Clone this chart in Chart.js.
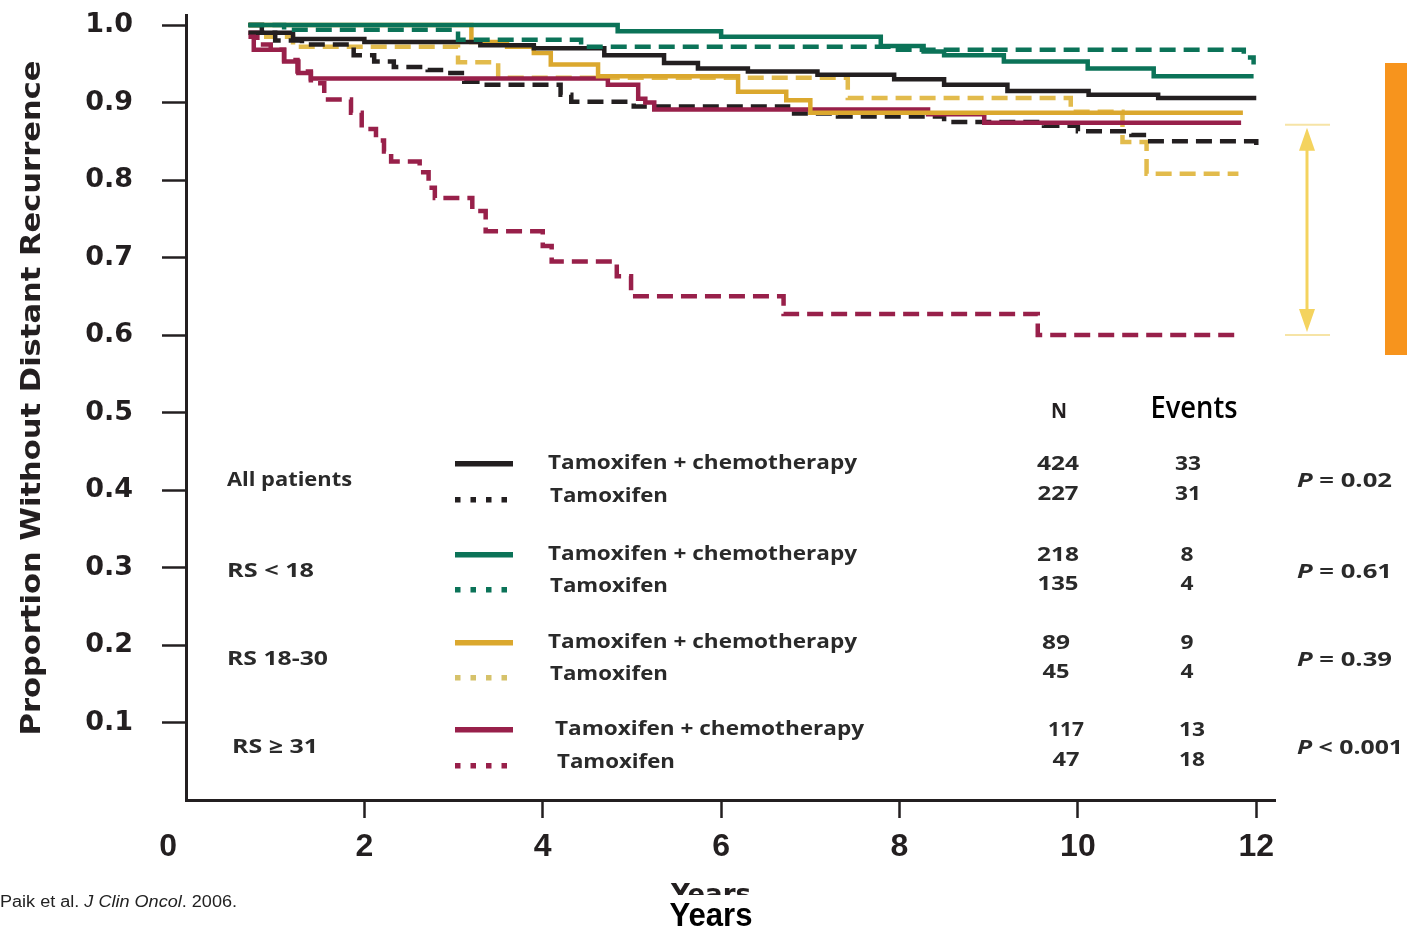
<!DOCTYPE html>
<html>
<head>
<meta charset="utf-8">
<script src="https://cdn.jsdelivr.net/npm/chart.js@4.4.1/dist/chart.umd.min.js"></script>
<style>
html,body{margin:0;padding:0;background:#ffffff;}
canvas{display:block;}
</style>
</head>
<body>
<canvas id="c" width="1407" height="931"></canvas>
<script>
// ---------- tick labels ----------
const xTickValues = [0, 2, 4, 6, 8, 10, 12];
const yTickValues = [0.1, 0.2, 0.3, 0.4, 0.5, 0.6, 0.7, 0.8, 0.9, 1.0];

// ---------- Kaplan-Meier curves (time of step, value after step) ----------
const allChemoTime = [0.7, 0.85, 1.2, 2.0, 3.3, 3.9, 4.69, 5.36, 5.74, 6.30, 7.08, 7.94, 8.50, 9.21, 10.12, 10.90, 12.0];
const allChemoSurv = [1.0, 0.99, 0.982, 0.978, 0.974, 0.970, 0.961, 0.951, 0.944, 0.940, 0.936, 0.930, 0.923, 0.915, 0.910, 0.906, 0.906];

const allTamTime = [0.7, 1.0, 1.3, 1.88, 2.11, 2.33, 2.71, 2.89, 3.12, 3.3, 4.2, 4.32, 5.02, 6.75, 7.31, 8.5, 9.62, 10.0, 10.6, 10.78, 12.0];
const allTamSurv = [0.99, 0.98, 0.975, 0.961, 0.953, 0.946, 0.942, 0.938, 0.927, 0.923, 0.910, 0.901, 0.895, 0.886, 0.882, 0.875, 0.870, 0.863, 0.858, 0.850, 0.835];

const lowChemoTime = [0.7, 4.84, 6.0, 7.79, 8.27, 8.5, 9.17, 10.11, 10.85, 11.97];
const lowChemoSurv = [1.0, 0.992, 0.985, 0.973, 0.966, 0.961, 0.953, 0.944, 0.934, 0.934];

const lowTamTime = [0.7, 1.1, 3.05, 4.43, 7.9, 11.86, 11.97];
const lowTamSurv = [1.0, 0.994, 0.981, 0.972, 0.968, 0.958, 0.949];

const midChemoTime = [0.7, 3.2, 3.6, 3.9, 4.09, 4.62, 6.19, 6.73, 7.0, 11.85];
const midChemoSurv = [1.0, 0.978, 0.972, 0.964, 0.949, 0.934, 0.914, 0.903, 0.887, 0.887];

const midTamTime = [0.7, 0.9, 1.2, 3.05, 3.5, 7.42, 9.92, 10.5, 10.77, 11.8];
const midTamSurv = [1.0, 0.985, 0.972, 0.952, 0.932, 0.906, 0.888, 0.849, 0.808, 0.808];

const highChemoTime = [0.7, 0.76, 1.1, 1.26, 1.4, 4.73, 5.07, 5.15, 5.25, 8.32, 8.95, 11.83];
const highChemoSurv = [0.985, 0.968, 0.953, 0.938, 0.931, 0.923, 0.905, 0.900, 0.891, 0.885, 0.874, 0.874];

const highTamTime = [0.7, 0.8, 0.95, 1.1, 1.25, 1.4, 1.55, 1.85, 1.97, 2.13, 2.22, 2.30, 2.62, 2.72, 2.79, 3.21, 3.36, 4.0, 4.1, 4.83, 4.99, 6.70, 9.55, 11.83];
const highTamSurv = [0.99, 0.975, 0.968, 0.955, 0.94, 0.925, 0.904, 0.887, 0.866, 0.851, 0.837, 0.824, 0.81, 0.79, 0.777, 0.76, 0.734, 0.715, 0.695, 0.676, 0.65, 0.627, 0.60, 0.60];

// ---------- legend / table ----------
const groupLabels = ['All patients', 'RS < 18', 'RS 18-30', 'RS \u2265 31'];
const armLabels = ['Tamoxifen + chemotherapy', 'Tamoxifen'];
const nChemo = ['424', '218', '89', '117'];
const nTam = ['227', '135', '45', '47'];
const eventsChemo = ['33', '8', '9', '13'];
const eventsTam = ['31', '4', '4', '18'];
const pSigns = ['=', '=', '=', '<'];
const pValues = ['0.02', '0.61', '0.39', '0.001'];

// ---------- styles ----------
const INK = '#231f20';
const TXT = '#2a2a2a';
const C_BLACK = '#231f20';
const C_GREEN = '#0b7358';
const C_GOLD = '#dba82e';
const C_GOLD_D = '#e2bb4c';
const C_RED = '#98204a';
const groupColors = [C_BLACK, C_GREEN, C_GOLD, C_RED];
const groupDotColors = [C_BLACK, C_GREEN, '#d6c26a', C_RED];

function km(t, s) { return t.map((x, i) => ({ x: x, y: s[i] })); }
function ds(label, t, s, color, dashed) {
  return {
    label: label, data: km(t, s), borderColor: color, backgroundColor: color,
    borderWidth: 4.5, borderDash: dashed ? [16, 8] : [], stepped: true,
    pointRadius: 0, pointHoverRadius: 0, fill: false, tension: 0,
    borderCapStyle: 'butt', borderJoinStyle: 'miter'
  };
}

const datasets = [
  ds('RS<18 Tamoxifen + chemotherapy', lowChemoTime, lowChemoSurv, C_GREEN, false),
  ds('RS<18 Tamoxifen', lowTamTime, lowTamSurv, C_GREEN, true),
  ds('All Tamoxifen + chemotherapy', allChemoTime, allChemoSurv, C_BLACK, false),
  ds('RS 18-30 Tamoxifen + chemotherapy', midChemoTime, midChemoSurv, C_GOLD, false),
  ds('RS>=31 Tamoxifen + chemotherapy', highChemoTime, highChemoSurv, C_RED, false),
  ds('All Tamoxifen', allTamTime, allTamSurv, C_BLACK, true),
  ds('RS 18-30 Tamoxifen', midTamTime, midTamSurv, C_GOLD_D, true),
  ds('RS>=31 Tamoxifen', highTamTime, highTamSurv, C_RED, true)
];

// ---------- text helpers ----------
function fitText(ctx, text, x, y, font, width, align, color) {
  ctx.save();
  ctx.font = font;
  ctx.fillStyle = color || INK;
  const w = ctx.measureText(text).width;
  const tw = width || w;
  const sx = tw / w;
  let left = x;
  if (align === 'center') left = x - tw / 2;
  else if (align === 'right') left = x - tw;
  ctx.translate(left, y);
  ctx.scale(sx, 1);
  ctx.textAlign = 'left';
  ctx.textBaseline = 'alphabetic';
  ctx.fillText(text, 0, 0);
  ctx.restore();
}
function richText(ctx, pieces, x, y, width, color) {
  ctx.save();
  let total = 0;
  const ws = pieces.map(p => { ctx.font = p.font; const w = ctx.measureText(p.t).width; total += w; return w; });
  const sx = width ? width / total : 1;
  ctx.translate(x, y);
  ctx.scale(sx, 1);
  ctx.textAlign = 'left';
  ctx.textBaseline = 'alphabetic';
  ctx.fillStyle = color || INK;
  let cx = 0;
  pieces.forEach((p, i) => { ctx.font = p.font; ctx.fillText(p.t, cx, 0); cx += ws[i]; });
  ctx.restore();
}

const F_MAIN = '700 20px "Open Sans"';
const F_NUM = '700 20px "Open Sans"';

// legend layout (pixel rows per group)
const rowChemoY = [469, 560, 648, 735];
const rowTamY = [502, 592, 680, 768];
const groupY = [486, 577, 665, 753];
const groupX = [227, 227, 227, 232];
const groupW = [125, 87, 101, 86];
const armX = [548, 548, 548, 555];
const nX = [1058, 1058, 1056, 1066];
const evX = [1188, 1187, 1187, 1192];

const overlayPlugin = {
  id: 'overlay',
  afterDraw(chart) {
    const ctx = chart.ctx;
    const yS = chart.scales.y;

    // Y axis title
    ctx.save();
    ctx.translate(40, 398);
    ctx.rotate(-Math.PI / 2);
    fitText(ctx, 'Proportion Without Distant Recurrence', 0, 0, 'bold 27px "DejaVu Sans"', 675, 'center');
    ctx.restore();

    // Header of table
    fitText(ctx, 'N', 1059, 418, '700 22px "Open Sans"', 16, 'center');
    fitText(ctx, 'Events', 1194, 418, '600 30px "Open Sans"', 87, 'center', '#000000');

    for (let g = 0; g < 4; g++) {
      fitText(ctx, groupLabels[g], groupX[g], groupY[g], F_MAIN, groupW[g], 'left', TXT);
      // samples
      ctx.save();
      ctx.fillStyle = groupColors[g];
      ctx.fillRect(455, rowChemoY[g] - 8, 58, 5.5);
      ctx.fillStyle = groupDotColors[g];
      for (let k = 0; k < 4; k++) ctx.fillRect(455 + k * 15.5, rowTamY[g] - 5, 5.5, 5.5);
      ctx.restore();
      fitText(ctx, armLabels[0], armX[g], rowChemoY[g], F_MAIN, 309, 'left', TXT);
      fitText(ctx, armLabels[1], armX[g] + 2, rowTamY[g], F_MAIN, 118, 'left', TXT);
      // N and events
      const nwC = nChemo[g].length * 14;
      const nwT = nTam[g].length * 14;
      fitText(ctx, nChemo[g], nX[g], rowChemoY[g] + 1, F_NUM, nChemo[g] === '117' ? 36 : nwC, 'center', TXT);
      fitText(ctx, nTam[g], nX[g], rowTamY[g] - 2, F_NUM, nwT - 1, 'center', TXT);
      fitText(ctx, eventsChemo[g], evX[g], rowChemoY[g] + 1, F_NUM, eventsChemo[g].length * 13, 'center', TXT);
      fitText(ctx, eventsTam[g], evX[g], rowTamY[g] - 2, F_NUM, eventsTam[g].length * 13, 'center', TXT);
      // P value
      richText(ctx, [
        { t: 'P', font: 'italic 700 20px "Open Sans"' },
        { t: ' ' + pSigns[g] + ' ' + pValues[g], font: '700 20px "Open Sans"' }
      ], 1297, groupY[g] + 1, pValues[g].length > 4 ? 106 : 95, TXT);
    }

    // double-headed arrow between RS>=31 arms at the end of follow-up
    const yTop = yS.getPixelForValue(highChemoSurv[highChemoSurv.length - 1]);
    const yBot = yS.getPixelForValue(highTamSurv[highTamSurv.length - 1]);
    const ax = 1307;
    ctx.save();
    ctx.strokeStyle = '#f6e4a6';
    ctx.lineWidth = 2;
    ctx.beginPath();
    ctx.moveTo(1285, yTop + 2); ctx.lineTo(1330, yTop + 2);
    ctx.moveTo(1285, yBot); ctx.lineTo(1330, yBot);
    ctx.stroke();
    ctx.strokeStyle = '#f4d35e';
    ctx.lineWidth = 3;
    ctx.beginPath();
    ctx.moveTo(ax, yTop + 20); ctx.lineTo(ax, yBot - 20);
    ctx.stroke();
    ctx.fillStyle = '#f4d35e';
    ctx.beginPath();
    ctx.moveTo(ax, yTop + 5); ctx.lineTo(ax - 8, yTop + 28); ctx.lineTo(ax + 8, yTop + 28); ctx.closePath();
    ctx.fill();
    ctx.beginPath();
    ctx.moveTo(ax, yBot - 3); ctx.lineTo(ax - 8, yBot - 26); ctx.lineTo(ax + 8, yBot - 26); ctx.closePath();
    ctx.fill();
    // orange side bar
    ctx.fillStyle = '#f7941d';
    ctx.fillRect(1385, 63, 22, 292);
    ctx.restore();

    // x axis title (clipped copy + bold copy)
    ctx.save();
    ctx.beginPath();
    ctx.rect(600, 870, 220, 25);
    ctx.clip();
    fitText(ctx, 'Years', 711, 903, 'bold 27px "DejaVu Sans"', 80, 'center');
    ctx.restore();
    fitText(ctx, 'Years', 711, 926, 'bold 34px "Liberation Sans"', 83, 'center', '#000000');

    // source
    richText(ctx, [
      { t: 'Paik et al. ', font: '16px "Liberation Sans"' },
      { t: 'J Clin Oncol', font: 'italic 16px "Liberation Sans"' },
      { t: '. 2006.', font: '16px "Liberation Sans"' }
    ], 0, 907, 237, '#222222');
  }
};

const chart = new Chart(document.getElementById('c').getContext('2d'), {
  type: 'line',
  data: { datasets: datasets },
  options: {
    responsive: false,
    animation: false,
    events: [],
    layout: { padding: { top: 15, right: 132, left: 0, bottom: 0 } },
    plugins: { legend: { display: false }, tooltip: { enabled: false }, title: { display: false } },
    scales: {
      x: {
        type: 'linear', min: 0, max: 12.21,
        afterBuildTicks: s => { s.ticks = xTickValues.map(v => ({ value: v })); },
        afterFit: s => { s.height = 131; s.paddingLeft = 0; s.paddingRight = 0; },
        grid: {
          display: true, drawOnChartArea: false, drawTicks: true, tickLength: 18, tickWidth: 2.5,
          tickColor: c => (c.tick && c.tick.value === 0) ? 'rgba(0,0,0,0)' : INK
        },
        border: { display: true, width: 3, color: INK },
        ticks: {
          autoSkip: false, maxRotation: 0, padding: 10, color: INK,
          font: { family: 'Liberation Sans', weight: 'bold', size: 32 },
          callback: v => v === 0 ? '0    ' : String(v)
        }
      },
      y: {
        type: 'linear', min: 0, max: 1.013,
        afterBuildTicks: s => { s.ticks = yTickValues.map(v => ({ value: v })); },
        afterFit: s => { s.width = 186; s.paddingTop = 0; s.paddingBottom = 0; },
        grid: { display: true, drawOnChartArea: false, drawTicks: true, tickLength: 24, tickWidth: 2.5, tickColor: INK },
        border: { display: true, width: 3, color: INK },
        ticks: {
          autoSkip: false, padding: 29, color: INK,
          font: { family: 'DejaVu Sans', weight: 'bold', size: 27 },
          callback: v => Number(v).toFixed(1)
        }
      }
    }
  },
  plugins: [overlayPlugin]
});
</script>
</body>
</html>
